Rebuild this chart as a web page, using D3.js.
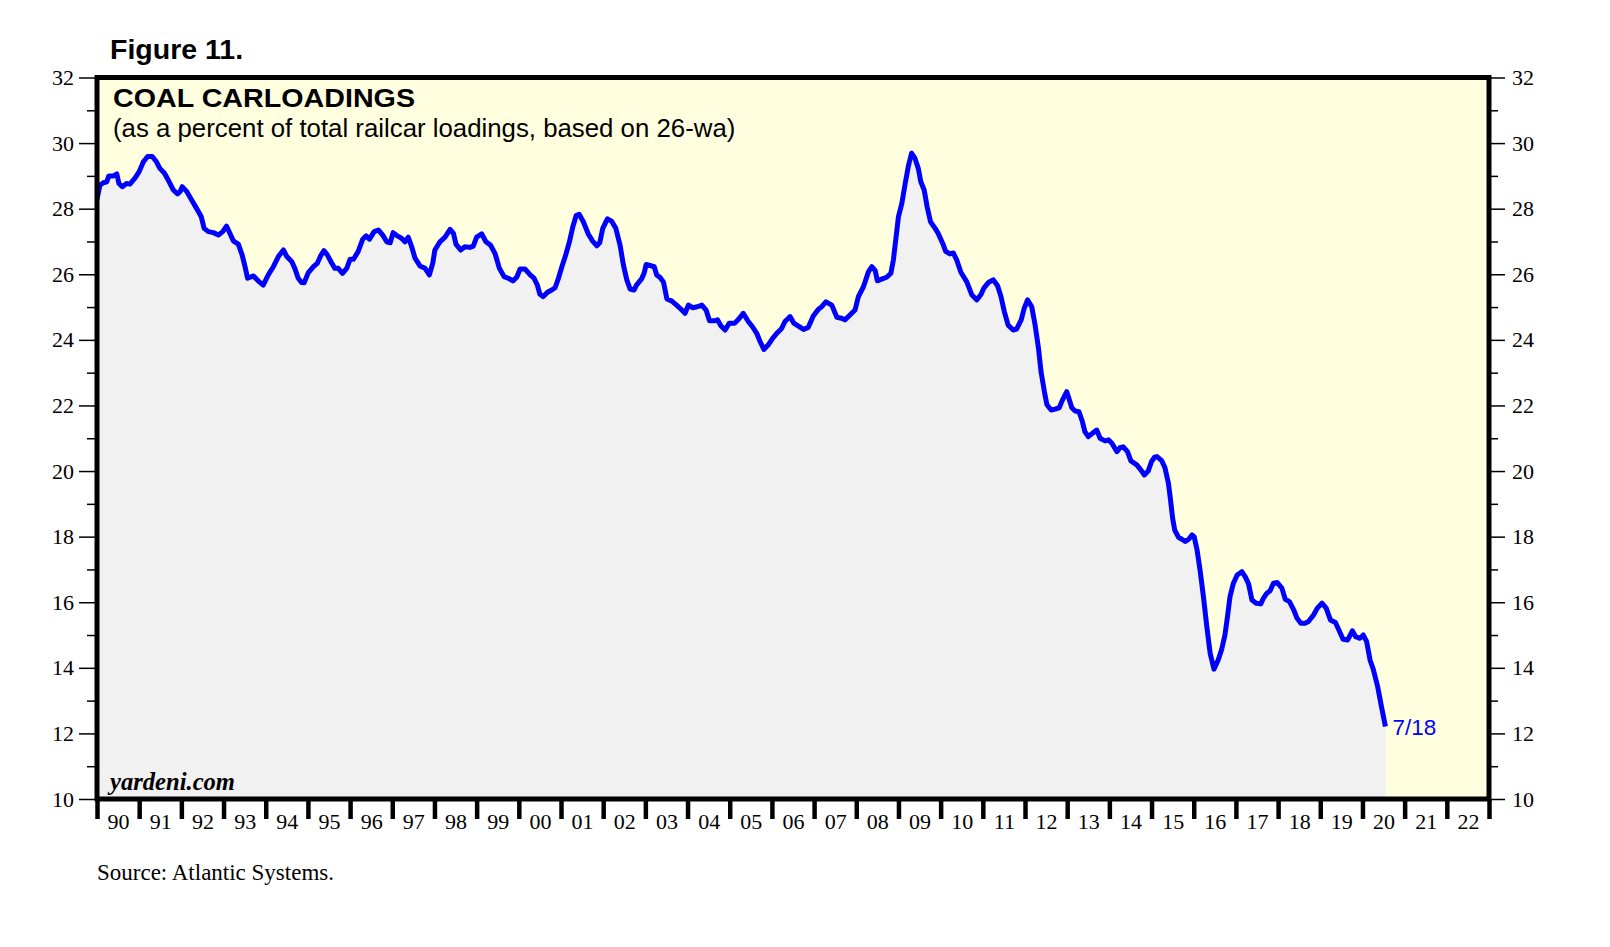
<!DOCTYPE html>
<html>
<head>
<meta charset="utf-8">
<script src="https://cdn.jsdelivr.net/npm/d3@7"></script>
<style>
  html, body { margin: 0; padding: 0; background: #ffffff; }
  svg { display: block; }
</style>
</head>
<body>
<svg id="chart" width="1610" height="947"></svg>
<script>
// ---- Data ----
const years = [
 1990.00,1990.07,1990.15,1990.23,1990.28,1990.39,1990.47,1990.52,1990.60,1990.70,1990.78,1990.90,
 1991.00,1991.10,1991.20,1991.31,1991.41,1991.49,1991.60,1991.71,1991.81,1991.91,1991.97,
 1992.02,1992.13,1992.24,1992.36,1992.47,1992.54,1992.64,1992.76,1992.88,1992.98,
 1993.07,1993.15,1993.23,1993.35,1993.44,1993.51,1993.57,1993.71,1993.82,1993.94,
 1994.06,1994.18,1994.30,1994.42,1994.50,1994.62,1994.69,1994.77,1994.85,1994.91,
 1995.01,1995.13,1995.22,1995.30,1995.38,1995.46,1995.56,1995.64,1995.72,1995.82,1995.92,
 1996.00,1996.08,1996.19,1996.30,1996.38,1996.46,1996.57,1996.67,1996.77,1996.87,1996.95,
 1997.02,1997.12,1997.22,1997.30,1997.38,1997.46,1997.54,1997.66,1997.78,1997.88,1997.96,
 1998.01,1998.13,1998.25,1998.37,1998.45,1998.51,1998.62,1998.72,1998.84,1998.92,
 1999.00,1999.12,1999.22,1999.33,1999.44,1999.54,1999.65,1999.75,1999.86,1999.95,
 2000.03,2000.15,2000.27,2000.36,2000.44,2000.50,2000.58,2000.68,2000.78,2000.86,2000.94,
 2001.02,2001.10,2001.20,2001.28,2001.36,2001.43,2001.53,2001.65,2001.75,2001.85,2001.92,2001.99,
 2002.10,2002.20,2002.30,2002.40,2002.48,2002.56,2002.64,2002.73,2002.79,2002.91,2002.97,
 2003.02,2003.13,2003.21,2003.27,2003.35,2003.43,2003.51,2003.62,2003.74,2003.84,2003.94,
 2004.02,2004.12,2004.23,2004.34,2004.44,2004.52,2004.63,2004.71,2004.79,2004.89,2004.99,
 2005.12,2005.23,2005.32,2005.44,2005.54,2005.64,2005.72,2005.81,2005.91,
 2006.02,2006.13,2006.23,2006.31,2006.43,2006.52,2006.63,2006.75,2006.86,2006.98,
 2007.10,2007.18,2007.28,2007.42,2007.54,2007.65,2007.73,2007.85,2007.97,
 2008.05,2008.17,2008.29,2008.37,2008.45,2008.50,2008.60,2008.72,2008.82,2008.88,2008.94,
 2009.00,2009.08,2009.16,2009.24,2009.31,2009.39,2009.47,2009.53,2009.61,2009.68,2009.76,2009.87,2009.94,
 2010.05,2010.12,2010.22,2010.30,2010.38,2010.48,2010.62,2010.74,2010.86,2010.96,
 2011.02,2011.14,2011.25,2011.35,2011.43,2011.51,2011.60,2011.72,2011.80,2011.91,2011.98,
 2012.06,2012.16,2012.24,2012.32,2012.38,2012.46,2012.52,2012.62,2012.71,2012.81,2012.89,2012.99,
 2013.04,2013.11,2013.19,2013.28,2013.36,2013.42,2013.50,2013.60,2013.70,2013.78,2013.90,2013.98,
 2014.06,2014.18,2014.25,2014.33,2014.43,2014.51,2014.65,2014.75,2014.83,2014.92,
 2015.00,2015.07,2015.13,2015.24,2015.32,2015.40,2015.45,2015.50,2015.55,2015.64,2015.72,2015.80,2015.88,2015.96,
 2016.01,2016.08,2016.15,2016.23,2016.31,2016.39,2016.48,2016.58,2016.66,2016.74,2016.80,2016.86,2016.94,
 2017.03,2017.14,2017.22,2017.30,2017.38,2017.48,2017.59,2017.65,2017.73,2017.81,2017.89,2017.98,
 2018.09,2018.17,2018.27,2018.37,2018.45,2018.54,2018.64,2018.72,2018.84,2018.93,
 2019.04,2019.14,2019.24,2019.36,2019.46,2019.54,2019.65,2019.76,2019.84,2019.94,
 2020.02,2020.10,2020.18,2020.26,2020.36,2020.45,2020.545
];
const values = [
 28.29,28.72,28.79,28.82,29.00,29.00,29.06,28.77,28.67,28.77,28.75,28.93,
 29.13,29.43,29.59,29.59,29.43,29.23,29.08,28.82,28.57,28.45,28.52,
 28.67,28.52,28.27,28.01,27.76,27.40,27.30,27.27,27.20,27.30,
 27.47,27.25,27.02,26.92,26.59,26.23,25.88,25.95,25.80,25.67,
 25.98,26.23,26.54,26.74,26.54,26.38,26.18,25.88,25.75,25.74,
 26.05,26.23,26.33,26.56,26.72,26.59,26.35,26.18,26.18,26.03,26.18,
 26.46,26.46,26.69,27.07,27.17,27.07,27.30,27.35,27.20,26.99,26.96,
 27.27,27.17,27.10,26.99,27.13,26.84,26.49,26.25,26.18,25.98,26.34,
 26.74,26.99,27.13,27.37,27.25,26.92,26.74,26.84,26.82,26.86,
 27.13,27.23,26.99,26.89,26.62,26.18,25.93,25.88,25.80,25.91,
 26.16,26.16,25.98,25.88,25.67,25.39,25.32,25.45,25.52,25.59,25.88,
 26.23,26.54,26.99,27.45,27.79,27.83,27.60,27.22,27.01,26.87,26.97,27.40,
 27.69,27.62,27.40,26.89,26.28,25.83,25.55,25.52,25.67,25.86,26.03,
 26.30,26.26,26.23,25.98,25.90,25.76,25.25,25.19,25.06,24.94,24.81,
 25.06,24.98,25.01,25.06,24.91,24.58,24.58,24.61,24.43,24.30,24.51,
 24.51,24.66,24.81,24.56,24.40,24.20,23.95,23.71,23.84,
 24.05,24.22,24.35,24.56,24.71,24.51,24.42,24.32,24.38,24.73,
 24.93,25.01,25.16,25.06,24.69,24.66,24.61,24.76,24.91,
 25.32,25.62,26.08,26.23,26.11,25.80,25.85,25.91,26.03,26.44,27.10,
 27.76,28.16,28.77,29.33,29.69,29.54,29.23,28.82,28.57,28.06,27.60,27.40,27.25,
 26.94,26.70,26.62,26.65,26.44,26.06,25.77,25.37,25.22,25.39,
 25.57,25.76,25.83,25.65,25.32,24.86,24.45,24.30,24.33,24.61,24.96,
 25.22,25.01,24.45,23.74,23.03,22.42,22.02,21.86,21.89,21.93,22.17,22.42,
 22.22,21.93,21.83,21.81,21.51,21.20,21.05,21.15,21.25,21.00,20.92,20.95,
 20.85,20.59,20.71,20.74,20.59,20.31,20.19,20.03,19.88,20.00,
 20.29,20.42,20.44,20.32,20.09,19.63,19.12,18.56,18.20,17.98,17.92,17.85,17.92,18.05,
 18.00,17.59,16.98,16.17,15.26,14.44,13.96,14.24,14.55,15.00,15.56,16.17,16.58,
 16.83,16.93,16.78,16.56,16.07,15.97,15.95,16.12,16.27,16.35,16.58,16.60,
 16.43,16.09,16.02,15.77,15.51,15.36,15.36,15.41,15.61,15.82,
 15.97,15.82,15.46,15.38,15.10,14.87,14.85,15.13,14.95,14.90,
 15.00,14.80,14.24,13.94,13.43,12.82,12.21
];
const yearTickLabels = ["90","91","92","93","94","95","96","97","98","99","00","01","02","03","04","05","06","07","08","09","10","11","12","13","14","15","16","17","18","19","20","21","22"];
const firstYear = 1990;
const yMajorTicks = [10,12,14,16,18,20,22,24,26,28,30,32];
const yMinorTicks = [11,13,15,17,19,21,23,25,27,29,31];
const lastLabel = "7/18";
const titleText = "Figure 11.";
const chartTitle = "COAL CARLOADINGS";
const chartSubtitle = "(as a percent of total railcar loadings, based on 26-wa)";
const sourceText = "Source: Atlantic Systems.";
const brandText = "yardeni.com";

// ---- Layout ----
const L = 97, R = 1489, T = 77.5, B = 799;
const serif = "'Liberation Serif', 'Times New Roman', serif";
const sans = "'Liberation Sans', Arial, sans-serif";

const svg = d3.select("#chart");
const x = d3.scaleLinear().domain([firstYear, firstYear + yearTickLabels.length]).range([L, R]);
const y = d3.scaleLinear().domain([10, 32]).range([B, T]);

const data = years.map((yr, i) => ({ yr, v: values[i] }));

// plot background
svg.append("rect").attr("x", L).attr("y", T).attr("width", R - L).attr("height", B - T)
  .attr("fill", "#FFFFE0");

svg.append("clipPath").attr("id", "clip").append("rect")
  .attr("x", L).attr("y", T).attr("width", R - L).attr("height", B - T);

const g = svg.append("g").attr("clip-path", "url(#clip)");

const area = d3.area().x(d => x(d.yr)).y0(y(10)).y1(d => y(d.v));
g.append("path").datum(data).attr("d", area).attr("fill", "#F1F1F1");

const line = d3.line().x(d => x(d.yr)).y(d => y(d.v));
g.append("path").datum(data).attr("d", line).attr("fill", "none")
  .attr("stroke", "#0000FF").attr("stroke-width", 5).attr("stroke-linejoin", "round");

// Left / right axes
function styleAxis(sel) {
  sel.select(".domain").remove();
  sel.selectAll(".tick line").attr("stroke", "#000").attr("stroke-width", 1.5);
  sel.selectAll(".tick text").attr("font-family", serif).attr("font-size", 22).attr("fill", "#000");
}
svg.append("g").attr("transform", `translate(${L},0)`)
  .call(d3.axisLeft(y).tickValues(yMajorTicks).tickSize(18).tickPadding(5).tickFormat(d3.format("d")))
  .call(styleAxis);
svg.append("g").attr("transform", `translate(${L},0)`)
  .call(d3.axisLeft(y).tickValues(yMinorTicks).tickSize(10).tickFormat(""))
  .call(styleAxis);
svg.append("g").attr("transform", `translate(${R},0)`)
  .call(d3.axisRight(y).tickValues(yMajorTicks).tickSize(16).tickPadding(7).tickFormat(d3.format("d")))
  .call(styleAxis);
svg.append("g").attr("transform", `translate(${R},0)`)
  .call(d3.axisRight(y).tickValues(yMinorTicks).tickSize(9).tickFormat(""))
  .call(styleAxis);

// Bottom axis: year boundary ticks
const yearBounds = d3.range(firstYear, firstYear + yearTickLabels.length + 1);
const bx = svg.append("g").attr("transform", `translate(0,${B})`)
  .call(d3.axisBottom(x).tickValues(yearBounds).tickSize(20).tickFormat(""));
bx.select(".domain").remove();
bx.selectAll(".tick line").attr("stroke", "#000").attr("stroke-width", 4.5);

// Year labels centered within each year
const yearMids = yearTickLabels.map((_, i) => firstYear + i + 0.5);
const lx = svg.append("g").attr("transform", `translate(0,${B})`)
  .call(d3.axisBottom(x).tickValues(yearMids).tickSize(0).tickPadding(14)
        .tickFormat((d, i) => yearTickLabels[i]));
lx.select(".domain").remove();
lx.selectAll(".tick text").attr("font-family", serif).attr("font-size", 22).attr("fill", "#000");

// Plot frame
svg.append("rect").attr("x", L).attr("y", T).attr("width", R - L).attr("height", B - T)
  .attr("fill", "none").attr("stroke", "#000").attr("stroke-width", 5);

// Texts
svg.append("text").attr("x", 110).attr("y", 59).text(titleText)
  .attr("font-family", sans).attr("font-weight", "bold").attr("font-size", 28.5).attr("fill", "#000");
svg.append("text").attr("x", 113).attr("y", 107).text(chartTitle)
  .attr("font-family", sans).attr("font-weight", "bold").attr("font-size", 26)
  .attr("textLength", 302).attr("lengthAdjust", "spacingAndGlyphs").attr("fill", "#000");
svg.append("text").attr("x", 113).attr("y", 137).text(chartSubtitle)
  .attr("font-family", sans).attr("font-size", 25.8).attr("fill", "#000");
svg.append("text").attr("x", 110).attr("y", 790).text(brandText)
  .attr("font-family", serif).attr("font-weight", "bold").attr("font-style", "italic")
  .attr("font-size", 24.6).attr("fill", "#000");
svg.append("text").attr("x", 97).attr("y", 880).text(sourceText)
  .attr("font-family", serif).attr("font-size", 23).attr("fill", "#000");

const last = data[data.length - 1];
svg.append("text").attr("x", x(last.yr) + 7).attr("y", y(last.v) + 8).text(lastLabel)
  .attr("font-family", sans).attr("font-size", 22.5).attr("fill", "#0000FF");
</script>
</body>
</html>
